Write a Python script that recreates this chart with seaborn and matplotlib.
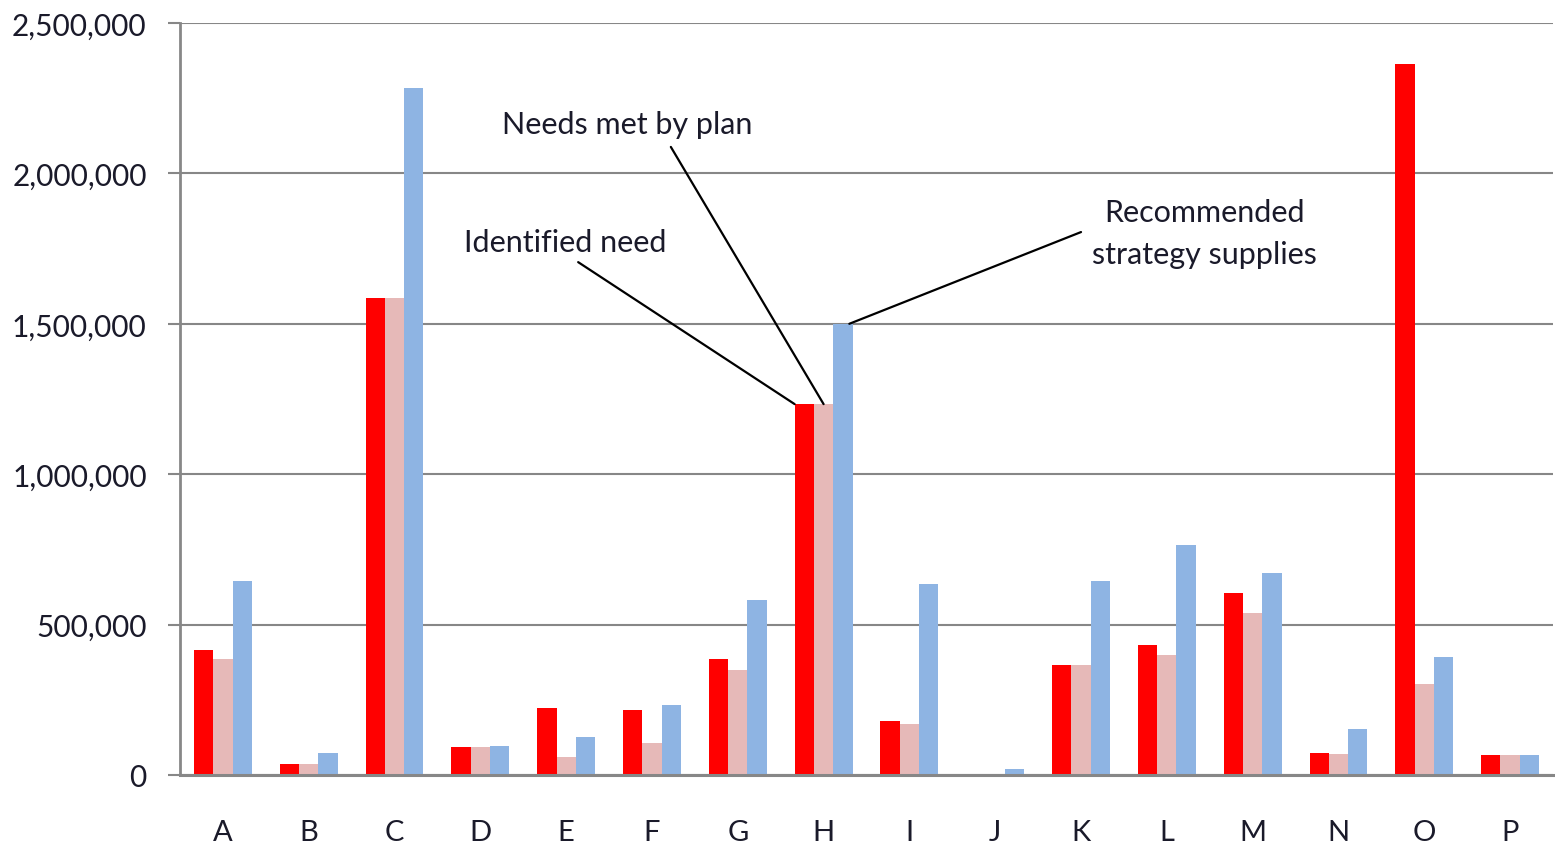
import numpy as np
import pandas as pd
import seaborn as sns
import matplotlib.pyplot as plt
from matplotlib.ticker import FuncFormatter

categories = list("ABCDEFGHIJKLMNOP")
identified_need = [415000, 36000, 1586000, 93000, 223000, 216000, 386000, 1233000,
                   180000, 0, 365000, 432000, 605000, 73000, 2364000, 66000]
needs_met = [386000, 36000, 1586000, 93000, 60000, 106000, 349000, 1233000,
             170000, 0, 365000, 399000, 539000, 70000, 302000, 66000]
recommended = [645000, 73000, 2284000, 96000, 126000, 233000, 582000, 1500000,
               635000, 20000, 645000, 765000, 672000, 153000, 392000, 66000]
series_names = ["Identified need", "Needs met by plan", "Recommended\nstrategy supplies"]
colors = ["#FF0000", "#E6B9B8", "#8EB4E3"]

df = pd.DataFrame({
    "category": categories * 3,
    "series": np.repeat(series_names, len(categories)),
    "value": identified_need + needs_met + recommended,
})

sns.set_style("white")
plt.rcParams['font.family'] = ['Lato', 'DejaVu Sans']

fig = plt.figure(figsize=(15.55, 8.45), dpi=100)
ax = fig.add_axes([180 / 1555, 1 - 776 / 845, 1373 / 1555, 752 / 845])

sns.barplot(data=df, x="category", y="value", hue="series", palette=colors,
            width=0.675, saturation=1, linewidth=0, legend=False, ax=ax, zorder=3)

ax.set_xlim(-0.5, 15.5)
ax.set_ylim(0, 2500000)
ax.set_yticks(np.arange(0, 2500001, 500000))
ax.yaxis.set_major_formatter(FuncFormatter(lambda v, p: f"{int(v):,}"))
ax.set_xlabel("")
ax.set_ylabel("")

ax.grid(axis="y", color="#878787", linewidth=1.5, zorder=0)
ax.set_axisbelow(True)
for s in ["top", "right"]:
    ax.spines[s].set_visible(False)
ax.spines["left"].set_color("#878787")
ax.spines["left"].set_linewidth(2)
ax.spines["bottom"].set_color("#878787")
ax.spines["bottom"].set_linewidth(2.2)
ax.spines["bottom"].set_zorder(4)

ax.tick_params(axis="y", left=True, length=9, width=1.5, color="#878787",
               pad=15, labelsize=21.5, labelcolor="#1a1a2a")
ax.tick_params(axis="x", bottom=False, pad=28, labelsize=21, labelcolor="#1a1a2a")

# callouts pointing at group H
h = categories.index("H")
callouts = [
    (series_names[0], (3.99, 1772000), (4.14, 1705000), (h - 0.3375, identified_need[h])),
    (series_names[1], (4.71, 2165000), (5.22, 2088000), (h, needs_met[h])),
    (series_names[2], (11.44, 1802000), (10.0, 1805000), (h + 0.30, recommended[h])),
]
for label, text_pos, start, end in callouts:
    ax.text(text_pos[0], text_pos[1], label, ha="center", va="center",
            fontsize=22, color="#1a1a2a", linespacing=1.6, zorder=5)
    ax.annotate("", xy=end, xytext=start,
                arrowprops=dict(arrowstyle="-", color="black", lw=1.6,
                                shrinkA=0, shrinkB=0), zorder=5)

fig.savefig("out.png", dpi=100)
